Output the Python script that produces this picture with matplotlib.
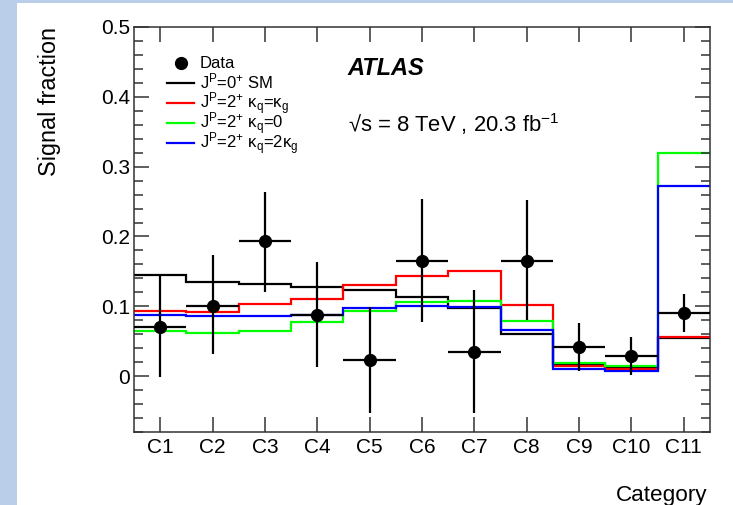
"""Signal fraction per category: data vs. spin/parity hypotheses (ATLAS style)."""
import numpy as np
import matplotlib
matplotlib.use("Agg")
import matplotlib.pyplot as plt
from matplotlib.patches import Rectangle
from matplotlib.ticker import MultipleLocator

plt.rcParams.update(
    {
        "font.family": ["Liberation Sans", "DejaVu Sans"],
        "mathtext.fontset": "custom",
        "mathtext.rm": "Liberation Sans",
        "mathtext.it": "Liberation Sans:italic",
        "mathtext.bf": "Liberation Sans:bold",
        "axes.linewidth": 1.1,
    }
)

# ---- data -------------------------------------------------------------
categories = ["C1", "C2", "C3", "C4", "C5", "C6", "C7", "C8", "C9", "C10", "C11"]

data_val = [0.071, 0.101, 0.193, 0.087, 0.023, 0.165, 0.034, 0.165, 0.042, 0.029, 0.091]
data_up  = [0.073, 0.072, 0.070, 0.076, 0.076, 0.089, 0.090, 0.087, 0.034, 0.027, 0.027]
data_dn  = [0.072, 0.070, 0.072, 0.074, 0.076, 0.088, 0.087, 0.085, 0.035, 0.027, 0.028]

sm_0p     = [0.145, 0.135, 0.132, 0.128, 0.123, 0.113, 0.098, 0.060, 0.017, 0.012, 0.054]
g_kq_kg   = [0.093, 0.092, 0.103, 0.110, 0.130, 0.143, 0.150, 0.102, 0.014, 0.010, 0.056]
g_kq_0    = [0.064, 0.062, 0.065, 0.077, 0.093, 0.106, 0.107, 0.079, 0.019, 0.014, 0.320]
g_kq_2kg  = [0.088, 0.086, 0.086, 0.088, 0.097, 0.101, 0.099, 0.066, 0.010, 0.008, 0.272]

edges = np.arange(len(categories) + 1)
centers = edges[:-1] + 0.5

# ---- figure -----------------------------------------------------------
W, H = 733, 505
fig = plt.figure(figsize=(W / 100, H / 100), dpi=100)

# light blue frame strips (left / top)
bg = "#bacde9"
fig.add_artist(Rectangle((0, 0), 17 / W, 1, transform=fig.transFigure,
                         facecolor=bg, edgecolor="none", zorder=-10))
fig.add_artist(Rectangle((0, 1 - 3 / H), 1, 3 / H, transform=fig.transFigure,
                         facecolor=bg, edgecolor="none", zorder=-10))

x0, x1, y0, y1 = 134, 710, 27, 432
ax = fig.add_axes([x0 / W, 1 - y1 / H, (x1 - x0) / W, (y1 - y0) / H])

lw = 1.6
ax.stairs(sm_0p, edges, color="black", lw=lw, baseline=None)
ax.stairs(g_kq_kg, edges, color="#ff0000", lw=lw, baseline=None)
ax.stairs(g_kq_0, edges, color="#00ff00", lw=lw, baseline=None)
ax.stairs(g_kq_2kg, edges, color="#0000ff", lw=lw, baseline=None)

ax.errorbar(centers, data_val, yerr=[data_dn, data_up], xerr=0.5,
            fmt="o", color="black", ms=8.5, elinewidth=1.6, capsize=0, zorder=5)

ax.set_xlim(0, len(categories))
ax.set_ylim(-0.08, 0.5)
ax.set_xticks(centers)
ax.set_xticklabels(categories)
ax.yaxis.set_minor_locator(MultipleLocator(0.02))
ax.set_yticks([0, 0.1, 0.2, 0.3, 0.4, 0.5])
ax.set_yticklabels(["0", "0.1", "0.2", "0.3", "0.4", "0.5"])
ax.tick_params(axis="both", which="both", direction="in", top=True, right=True,
               color="#333333")
ax.tick_params(axis="both", which="major", length=11, width=1.1, labelsize=15)
ax.tick_params(axis="y", which="minor", length=6.5, width=1.1)
ax.tick_params(axis="y", which="major", pad=3)
ax.tick_params(axis="x", which="major", pad=4)
for s in ax.spines.values():
    s.set_color("#333333")

fig.text(50 / W, 1 - 27 / H, "Signal fraction", rotation=90,
         ha="center", va="top", fontsize=16.8)
fig.text(707 / W, 1 - 501 / H, "Category", ha="right", va="baseline",
         fontsize=16.2)

ax.text(0.3715, 0.8815, "ATLAS", transform=ax.transAxes, fontsize=17,
        fontweight="bold", fontstyle="italic", va="baseline")
ax.text(0.3715, 0.7407, "√s = 8 TeV , 20.3 fb$^{-1}$", transform=ax.transAxes,
        fontsize=15.8, va="baseline")

# ---- legend (ROOT-style, fixed row pitch) -----------------------------
leg_labels = [
    "Data",
    r"J$^{\mathrm{P}}$=0$^{+}$ SM",
    r"J$^{\mathrm{P}}$=2$^{+}$ κ$_{\mathrm{q}}$=κ$_{\mathrm{g}}$",
    r"J$^{\mathrm{P}}$=2$^{+}$ κ$_{\mathrm{q}}$=0",
    r"J$^{\mathrm{P}}$=2$^{+}$ κ$_{\mathrm{q}}$=2κ$_{\mathrm{g}}$",
]
leg_colors = [None, "black", "#ff0000", "#00ff00", "#0000ff"]


def ax_x(px):
    return (px - x0) / (x1 - x0)


def ax_y(py):
    return (y1 - py) / (y1 - y0)


for i, (lab, col) in enumerate(zip(leg_labels, leg_colors)):
    yc = 62.7 + 20.1 * i
    if col is None:
        ax.plot([ax_x(180.5)], [ax_y(yc)], "o", color="black", ms=8.5,
                transform=ax.transAxes, clip_on=False)
    else:
        ax.plot([ax_x(167), ax_x(194)], [ax_y(yc), ax_y(yc)], color=col, lw=lw,
                transform=ax.transAxes, clip_on=False)
    ax.text(ax_x(200), ax_y(yc + 5.5), lab, transform=ax.transAxes,
            fontsize=12, va="baseline", ha="left")

fig.savefig("out.png", dpi=100)
